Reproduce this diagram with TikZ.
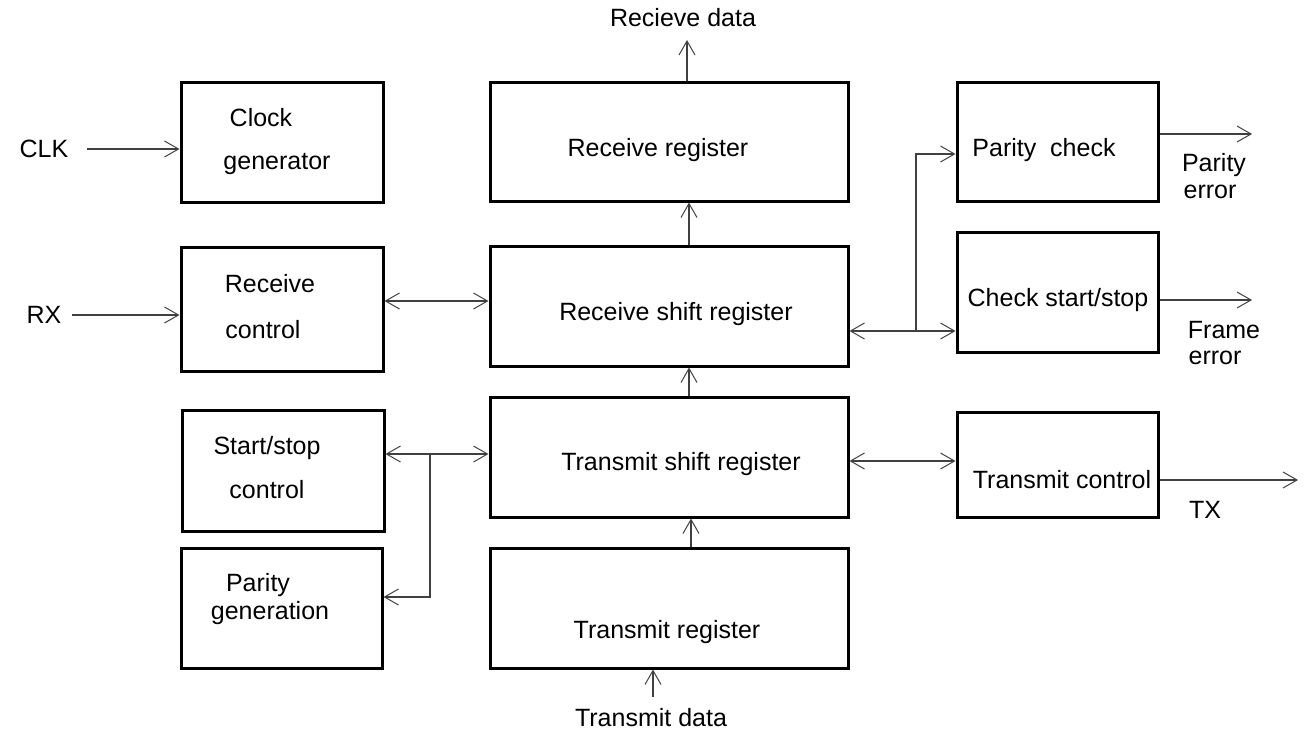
\documentclass[tikz,border=0pt]{standalone}
\usepackage{fontspec}
\setmainfont{Liberation Sans}
\usetikzlibrary{arrows.meta}
\begin{document}
\begin{tikzpicture}[x=1pt,y=-1pt,
  box/.style={draw=black,line width=3pt,inner sep=0pt,rectangle},
  lbl/.style={inner sep=0pt,font=\fontsize{25}{30}\selectfont,anchor=center},
  conn/.style={draw=black!75,line width=1.1pt},
  arr/.style={conn,-{Straight Barb[length=14pt,width=16pt,line width=1pt]}},
  bi/.style={conn,{Straight Barb[length=14pt,width=16pt,line width=1pt]}-{Straight Barb[length=14pt,width=16pt,line width=1pt]}},
  plain/.style={conn}]
\useasboundingbox (0,0) rectangle (1306,731);
% boxes: centre, size
\node[box,minimum width=202pt,minimum height=120pt] (clkgen) at (282,142) {};
\node[box,minimum width=202pt,minimum height=124pt] (rxctl) at (282,309) {};
\node[box,minimum width=202pt,minimum height=121pt] (ssctl) at (283,470.5) {};
\node[box,minimum width=201pt,minimum height=120pt] (pgen) at (281.5,608) {};
\node[box,minimum width=358pt,minimum height=119pt] (rreg) at (669,141.5) {};
\node[box,minimum width=358pt,minimum height=120pt] (rsr) at (669,306) {};
\node[box,minimum width=358pt,minimum height=120pt] (tsr) at (669,457) {};
\node[box,minimum width=358pt,minimum height=120pt] (treg) at (669,608) {};
\node[box,minimum width=201pt,minimum height=119pt] (pchk) at (1057.5,141.5) {};
\node[box,minimum width=201pt,minimum height=120pt] (css) at (1057.5,292) {};
\node[box,minimum width=201pt,minimum height=105pt] (txc) at (1057.5,464.5) {};
% texts
\node[lbl] (t1) at (261,118) {Clock};
\node[lbl] (t2) at (277,164) {generator};
\node[lbl] (t3) at (270,284) {Receive};
\node[lbl] (t4) at (263,330) {control};
\node[lbl] (t5) at (267,448) {Start/stop};
\node[lbl] (t6) at (267,490) {control};
\node[lbl] (t7) at (258,585) {Parity};
\node[lbl] (t8) at (270,613) {generation};
\node[lbl] (t9) at (658,150) {Receive register};
\node[lbl] (t10) at (676,314) {Receive shift register};
\node[lbl] (t11) at (681,464) {Transmit shift register};
\node[lbl] (t12) at (667,632) {Transmit register};
\node[lbl] (t13) at (1044,150) {Parity\ \ check};
\node[lbl] (t14) at (1058,300) {Check start/stop};
\node[lbl] (t15) at (1062,480) {Transmit control};
\node[lbl] (rdata) at (683,18) {Recieve data};
\node[lbl] (tdata) at (651,718) {Transmit data};
\node[lbl] (clk) at (44,149) {CLK};
\node[lbl] (rx) at (44,315) {RX};
\node[lbl] (pe1) at (1214,165) {Parity};
\node[lbl] (pe2) at (1210,192) {error};
\node[lbl] (fe1) at (1224,330) {Frame};
\node[lbl] (fe2) at (1215,358) {error};
\node[lbl] (tx) at (1205,510) {TX};
% free ends
\coordinate (clkin) at (87,149);
\coordinate (rxin) at (72,315);
\coordinate (rdout) at (687,40);
\coordinate (tdin) at (653,697);
\coordinate (peout) at (1252,134);
\coordinate (feout) at (1252,300);
\coordinate (txout) at (1298,480);
\coordinate (jl) at (430,454);
\coordinate (jr) at (916,331);
% connectors
\draw[arr] (clkin) -- (clkin -| clkgen.west);
\draw[arr] (rxin) -- (rxin -| rxctl.west);
\draw[bi] (rxctl.east |- 0,301) -- (rsr.west |- 0,301);
\draw[bi] (ssctl.east |- jl) -- (tsr.west |- jl);
\draw[arr] (jl) -- (jl |- 0,597) -- (pgen.east |- 0,597);
\draw[arr] (rreg.north -| rdout) -- (rdout);
\draw[arr] (rsr.north -| 689,0) -- (rreg.south -| 689,0);
\draw[arr] (tsr.north -| 689,0) -- (rsr.south -| 689,0);
\draw[arr] (treg.north -| 691,0) -- (tsr.south -| 691,0);
\draw[arr] (tdin) -- (tdin |- treg.south);
\draw[bi] (rsr.east |- jr) -- (css.west |- jr);
\draw[arr] (jr) -- (jr |- 0,154) -- (pchk.west |- 0,154);
\draw[arr] (pchk.east |- peout) -- (peout);
\draw[arr] (css.east |- feout) -- (feout);
\draw[bi] (tsr.east |- 0,461) -- (txc.west |- 0,461);
\draw[arr] (txc.east |- txout) -- (txout);
\end{tikzpicture}
\end{document}
